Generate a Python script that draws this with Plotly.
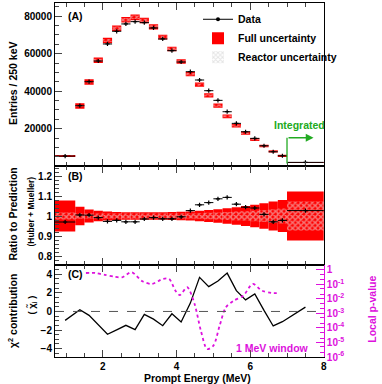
import plotly.graph_objects as go
from plotly.subplots import make_subplots

# prompt energy bins (MeV)
bin_edges = [0.7, 1.25, 1.5, 1.75, 2.0, 2.25, 2.5, 2.75, 3.0, 3.25, 3.5, 3.75, 4.0,
             4.25, 4.5, 4.75, 5.0, 5.25, 5.5, 5.75, 6.0, 6.25, 6.5, 6.75, 7.0, 8.0]

entries = [5440, 32270, 45070, 56100, 65170, 71930, 75840, 77070, 76540, 73700,
           67840, 61600, 55570, 50400, 45970, 40270, 35130, 29070, 22870, 18400,
           14870, 10930, 7730, 5600, 2080]

ratio = [0.970, 1.005, 1.004, 0.992, 0.973, 0.978, 0.971, 0.971, 0.985, 0.992,
         0.986, 0.986, 0.996, 1.027, 1.056, 1.067, 1.086, 1.093, 1.059, 1.044,
         1.040, 1.008, 0.971, 0.978, 1.027]

# relative uncertainties of the prediction
full_unc = [0.078, 0.046, 0.032, 0.026, 0.022, 0.020, 0.019, 0.019, 0.019, 0.019,
            0.019, 0.020, 0.021, 0.023, 0.026, 0.030, 0.034, 0.039, 0.044, 0.050,
            0.056, 0.064, 0.072, 0.080, 0.122]
reactor_unc = [0.017, 0.014, 0.013, 0.012, 0.012, 0.012, 0.012, 0.012, 0.012, 0.012,
               0.012, 0.012, 0.012, 0.013, 0.014, 0.016, 0.018, 0.020, 0.022, 0.024,
               0.026, 0.030, 0.034, 0.038, 0.072]

chi = [-0.96, 0.18, -0.42, -1.45, -2.45, -1.98, -1.49, -1.95, -0.32, -0.83,
       -1.53, -0.25, -1.13, 0.9, 3.67, 2.67, 3.27, 4.13, 2.24, 1.25,
       1.89, 0.11, -1.56, -1.1, 0.47]

# 1 MeV sliding window local p-value
scan_energy = [1.54, 1.80, 2.05, 2.31, 2.52, 2.78, 3.07, 3.33, 3.63, 3.80, 3.97, 4.09,
               4.29, 4.49, 4.66, 4.83, 5.0, 5.17, 5.34, 5.55, 5.81, 6.07, 6.32, 6.58, 6.79]
scan_pvalue = [0.59, 0.59, 0.44, 0.33, 0.30, 0.66, 0.16, 0.105, 0.23, 0.23, 0.036, 0.018,
               0.062, 0.0044, 6.5e-5, 3.5e-6, 6e-6, 1.4e-4, 2.6e-3, 7.4e-3, 0.016, 0.105,
               0.036, 0.025, 0.025]

centers = [(a + b) / 2 for a, b in zip(bin_edges[:-1], bin_edges[1:])]
widths = [b - a for a, b in zip(bin_edges[:-1], bin_edges[1:])]
half_w = [w / 2 for w in widths]
pred = [n / r for n, r in zip(entries, ratio)]

RED = "#ff0000"
MAG = "#dd11dd"
GREEN = "#22aa22"
FONT = "Liberation Sans"
checker = dict(shape="x", fgcolor="#eeeeee", size=4, solidity=0.6)

fig = make_subplots(rows=3, cols=1, shared_xaxes=True, vertical_spacing=0,
                    row_heights=[163, 99, 92],
                    specs=[[{}], [{}], [{"secondary_y": True}]])

# legend-only entries
fig.add_trace(go.Scatter(x=[None], y=[None], mode="lines+markers", name="Data",
                         line=dict(color="black", width=1),
                         marker=dict(color="black", size=4), legendrank=1), row=1, col=1)
fig.add_trace(go.Bar(x=[None], y=[None], name="Reactor uncertainty", legendrank=3,
                     marker=dict(color="rgba(0,0,0,0)", line_width=0,
                                 pattern=dict(shape="x", fgcolor="#c8c8c8", size=4,
                                              solidity=0.5))), row=1, col=1)

# panel A: prediction boxes
fig.add_trace(go.Bar(x=centers, width=widths,
                     base=[p * (1 - u) for p, u in zip(pred, full_unc)],
                     y=[2 * p * u for p, u in zip(pred, full_unc)],
                     marker=dict(color=RED, line_width=0), name="Full uncertainty",
                     legendrank=2), row=1, col=1)
fig.add_trace(go.Bar(x=centers, width=widths,
                     base=[p * (1 - u) for p, u in zip(pred, reactor_unc)],
                     y=[2 * p * u for p, u in zip(pred, reactor_unc)], showlegend=False,
                     marker=dict(color="rgba(0,0,0,0)", line_width=0, pattern=checker)),
              row=1, col=1)

data_style = dict(mode="markers", showlegend=False,
                  marker=dict(symbol="cross-thin", size=3, color="black",
                              line=dict(width=1.2, color="black")))
fig.add_trace(go.Scatter(x=centers, y=entries,
                         error_x=dict(type="data", array=half_w, width=0, thickness=1,
                                      color="black"), **data_style), row=1, col=1)

# panel B: ratio bands
fig.add_trace(go.Bar(x=centers, width=widths, base=[1 - u for u in full_unc],
                     y=[2 * u for u in full_unc], showlegend=False,
                     marker=dict(color=RED, line_width=0)), row=2, col=1)
fig.add_trace(go.Bar(x=centers, width=widths, base=[1 - u for u in reactor_unc],
                     y=[2 * u for u in reactor_unc], showlegend=False,
                     marker=dict(color="rgba(0,0,0,0)", line_width=0, pattern=checker)),
              row=2, col=1)
fig.add_trace(go.Scatter(x=centers, y=ratio,
                         error_x=dict(type="data", array=half_w, width=0, thickness=1,
                                      color="black"), **data_style), row=2, col=1)

# panel C
fig.add_trace(go.Scatter(x=centers, y=chi, mode="lines", showlegend=False,
                         line=dict(color="black", width=1.3)), row=3, col=1)
fig.add_trace(go.Scatter(x=scan_energy, y=scan_pvalue, mode="lines", showlegend=False,
                         line=dict(color=MAG, width=1.8, dash="dot", shape="spline",
                                   smoothing=0.8)),
              row=3, col=1, secondary_y=True)
fig.add_hline(y=0, row=3, col=1, line=dict(color="#555555", width=1, dash="dash"))

tickfont = dict(family=FONT, size=10, color="black", weight="bold")
for r in (1, 2, 3):
    fig.update_xaxes(range=[0.7, 8], dtick=2, tick0=0, ticks="inside", ticklen=7,
                     minor=dict(dtick=0.5, ticks="inside", ticklen=4),
                     showline=True, linecolor="black", linewidth=1, mirror="ticks",
                     showgrid=False, zeroline=False, showticklabels=(r == 3),
                     tickfont=tickfont, automargin=False, row=r, col=1)

fig.update_yaxes(range=[150, 87000], dtick=20000, tickformat="d", ticks="inside", ticklen=7,
                 minor=dict(dtick=5000, ticks="inside", ticklen=4),
                 row=1, col=1)
fig.update_yaxes(range=[0.755, 1.25], dtick=0.1, tick0=0, ticks="inside", ticklen=7,
                 minor=dict(dtick=0.02, ticks="inside", ticklen=4),
                 row=2, col=1)
fig.update_yaxes(range=[-4.9, 5], dtick=2, tick0=0, ticks="inside", ticklen=7,
                 minor=dict(dtick=0.5, ticks="inside", ticklen=4),
                 row=3, col=1, secondary_y=False)
for r in (1, 2, 3):
    fig.update_yaxes(showline=True, linecolor="black", linewidth=1, mirror=True,
                     showgrid=False, zeroline=False, tickfont=tickfont, automargin=False,
                     row=r, col=1, secondary_y=False)

fig.update_yaxes(type="log", range=[-6.0, 0.32],
                 tickvals=[1, 1e-1, 1e-2, 1e-3, 1e-4, 1e-5, 1e-6],
                 ticktext=["1", "10<sup>-1</sup>", "10<sup>-2</sup>", "10<sup>-3</sup>",
                           "10<sup>-4</sup>", "10<sup>-5</sup>", "10<sup>-6</sup>"],
                 ticks="inside", ticklen=8, tickcolor=MAG, showline=True, linecolor=MAG,
                 minor=dict(ticks="inside", ticklen=4, tickcolor=MAG),
                 showgrid=False, zeroline=False, automargin=False,
                 tickfont=dict(family=FONT, size=10, color=MAG, weight="bold"),
                 row=3, col=1, secondary_y=True)

ann_font = dict(family=FONT, size=10.5, color="black", weight="bold")
annotations = [
    dict(text="Entries / 250 keV", x=-0.147, y=0.774, textangle=-90, font=ann_font),
    dict(text="Ratio to Prediction", x=-0.147, y=0.405, textangle=-90, font=ann_font),
    dict(text="(Huber + Mueller)", x=-0.085, y=0.41, textangle=-90,
         font=dict(family=FONT, size=8.5, color="black", weight="bold")),
    dict(text="χ<sup>2</sup> contribution", x=-0.147, y=0.13, textangle=-90, font=ann_font),
    dict(text="( χ̃<sub>i</sub> )", x=-0.082, y=0.147, textangle=-90,
         font=dict(family=FONT, size=9.5, color="black", weight="bold")),
    dict(text="Local p-value", x=1.108, y=0.136, textangle=-90,
         font=dict(family=FONT, size=10.5, color=MAG, weight="bold")),
    dict(text="Prompt Energy (MeV)", x=0.497, y=-0.058, font=ann_font),
]
for a in annotations:
    a.update(xref="paper", yref="paper", showarrow=False, xanchor="center", yanchor="middle")
    fig.add_annotation(**a)

fig.add_annotation(text="(A)", x=1.0, y=80000, xref="x", yref="y", xanchor="left",
                   showarrow=False, font=ann_font)
fig.add_annotation(text="(B)", x=1.0, y=1.2, xref="x2", yref="y2", xanchor="left",
                   showarrow=False, font=ann_font)
fig.add_annotation(text="(C)", x=1.0, y=4, xref="x3", yref="y3", xanchor="left",
                   showarrow=False, font=ann_font)
fig.add_annotation(text="1 MeV window", x=6.6, y=-3.98, xref="x3", yref="y3",
                   showarrow=False, font=dict(family=FONT, size=10.5, color=MAG, weight="bold"))

# integrated bin marker
fig.add_annotation(text="Integrated", x=7.35, y=22000, xref="x", yref="y", showarrow=False,
                   font=dict(family=FONT, size=10.5, color=GREEN, weight="bold"))
fig.add_shape(type="line", x0=7.0, x1=7.0, y0=1500, y1=15200, xref="x", yref="y",
              line=dict(color=GREEN, width=1.3))
fig.add_annotation(x=7.72, y=15200, ax=7.0, ay=15200, xref="x", yref="y", axref="x",
                   ayref="y", text="", showarrow=True, arrowhead=2, arrowsize=1.2,
                   arrowwidth=1.3, arrowcolor=GREEN)

fig.update_layout(
    width=382, height=384,
    margin=dict(l=55, r=41, t=3, b=27, autoexpand=False),
    paper_bgcolor="white", plot_bgcolor="white",
    barmode="overlay",
    font=dict(family=FONT, size=10, color="black", weight="bold"),
    legend=dict(x=0.5, y=0.995, xanchor="left", yanchor="top", bgcolor="rgba(0,0,0,0)",
                font=dict(family=FONT, size=10.5, color="black", weight="bold"),
                itemwidth=30, tracegroupgap=9, traceorder="grouped"),
)

fig.write_html("out.html", config={"displayModeBar": False},
               post_script="document.body.style.margin='0';document.body.style.overflow='hidden';")
